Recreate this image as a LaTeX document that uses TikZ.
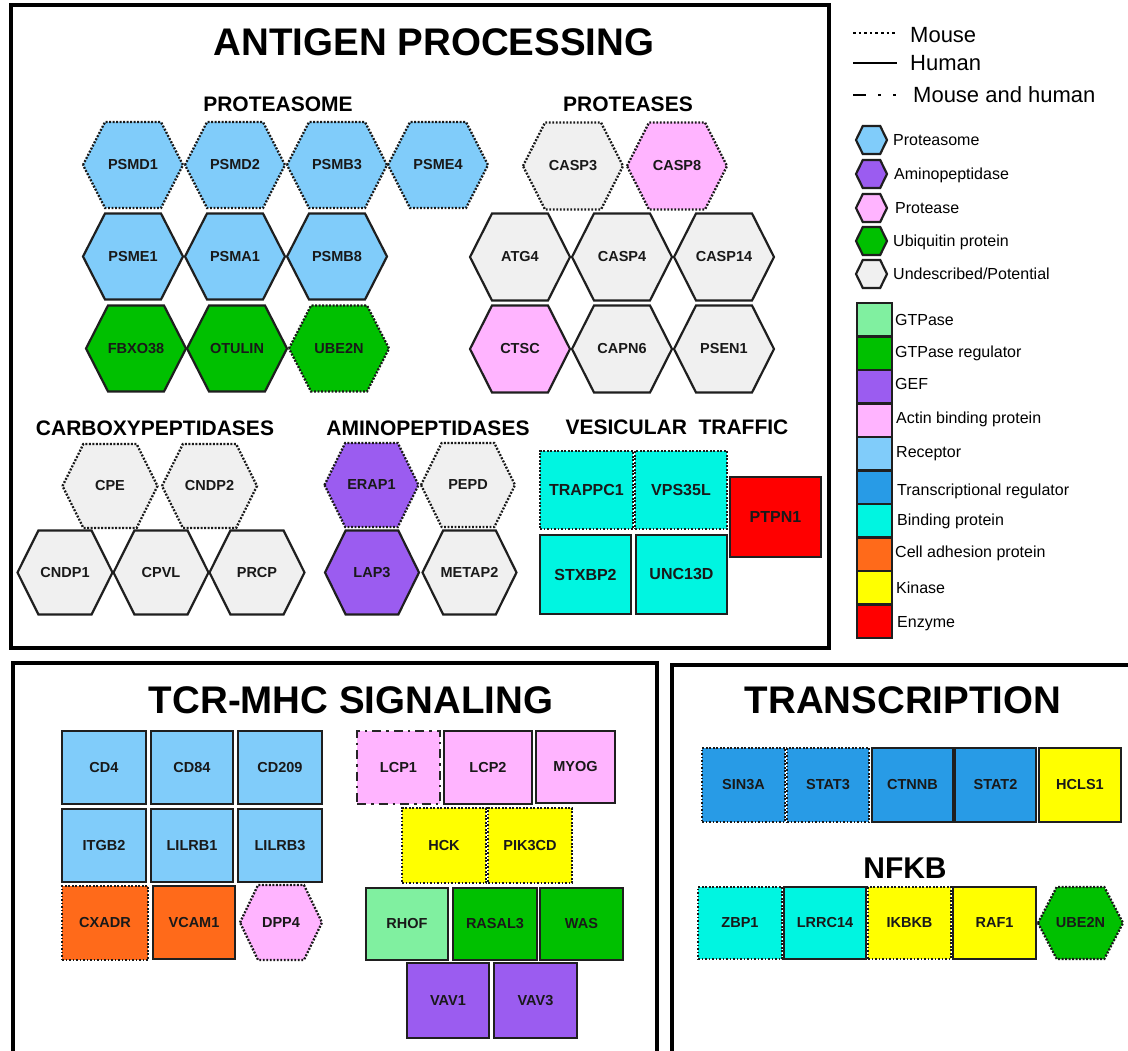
\documentclass[tikz,border=0pt]{standalone}
\usepackage{fontspec}
\setmainfont{Liberation Sans}
\definecolor{cprot}{RGB}{128,204,250}
\definecolor{cpurp}{RGB}{155,92,240}
\definecolor{cpink}{RGB}{255,180,255}
\definecolor{cgreen}{RGB}{0,192,0}
\definecolor{cgray}{RGB}{240,240,240}
\definecolor{cltgreen}{RGB}{128,240,160}
\definecolor{ctrans}{RGB}{40,155,230}
\definecolor{ccyan}{RGB}{0,245,225}
\definecolor{corange}{RGB}{255,106,26}
\definecolor{cyellow}{RGB}{255,255,0}
\definecolor{cred}{RGB}{255,0,0}
\tikzset{
 solidb/.style={draw=black!88, line width=2.2pt},
 dotb/.style={draw=black!90, line width=2.3pt, dash pattern=on 1.9pt off 1.6pt},
 dashdotb/.style={draw=black!85, line width=2.4pt, dash pattern=on 9pt off 5pt on 2.5pt off 5pt},
 lbl/.style={font=\fontsize{14.5}{16}\selectfont\bfseries, text=black!90, inner sep=0pt},
 sq/.style={lbl, rectangle},
 bigl/.style={font=\fontsize{16}{18}\selectfont\bfseries},
 frame/.style={line width=4pt, draw=black},
 ttl/.style={font=\fontsize{38.5}{40}\selectfont\bfseries, inner sep=0pt},
 sub/.style={font=\fontsize{21}{22}\selectfont\bfseries, inner sep=0pt},
 leg/.style={font=\fontsize{16}{18}\selectfont, anchor=base west, inner sep=0pt},
 legbig/.style={font=\fontsize{22}{24}\selectfont, anchor=base west, inner sep=0pt},
 legsq/.style={rectangle, solidb, minimum width=35pt, minimum height=33.5pt, inner sep=0pt},
}
% #1 name, #2 x, #3 y, #4 half width, #5 half height, #6 style, #7 label
\newcommand\hexa[7]{%
  \path[#6] (#2-#4,#3) -- (#2-0.56*#4,#3-#5) -- (#2+0.56*#4,#3-#5) -- (#2+#4,#3)
     -- (#2+0.56*#4,#3+#5) -- (#2-0.56*#4,#3+#5) -- cycle;
  \node[lbl] (#1) at (#2,#3) {#7};}
\begin{document}
\begin{tikzpicture}[x=1pt,y=-1pt]
\useasboundingbox (0,0) rectangle (1128,1051);
\clip (0,0) rectangle (1128,1051);
\fill[white] (0,0) rectangle (1128,1051);

% ---------- frames ----------
\draw[frame] (11,5) rectangle (829,648);
\draw[frame] (13,1070) -- (13,663) -- (657,663) -- (657,1070);
\draw[frame] (672,1070) -- (672,665) -- (1140,665);

% ---------- titles ----------
\node[ttl] (tap) at (434,42) {ANTIGEN PROCESSING};
\node[sub] (sprot) at (278,104) {PROTEASOME};
\node[sub] (sprots) at (628,104) {PROTEASES};
\node[sub] (scarb) at (155,428) {CARBOXYPEPTIDASES};
\node[sub] (samin) at (428,428) {AMINOPEPTIDASES};
\node[sub] (sves) at (677,427) {VESICULAR\ \ TRAFFIC};
\node[ttl] (ttcr) at (351,700) {TCR-MHC SIGNALING};
\node[ttl] (ttr) at (903,700) {TRANSCRIPTION};
\node[font=\fontsize{30}{32}\selectfont\bfseries, inner sep=0pt] (tnf) at (905,868) {NFKB};

% ---------- proteasome ----------
\hexa{psmd1}{133}{165}{50}{43}{fill=cprot,dotb}{PSMD1}
\hexa{psmd2}{235}{165}{50}{43}{fill=cprot,dotb}{PSMD2}
\hexa{psmb3}{337}{165}{50}{43}{fill=cprot,dotb}{PSMB3}
\hexa{psme4}{438}{165}{50}{43}{fill=cprot,dotb}{PSME4}
\hexa{psme1}{133}{256.5}{50}{43}{fill=cprot,solidb}{PSME1}
\hexa{psma1}{235}{256.5}{50}{43}{fill=cprot,solidb}{PSMA1}
\hexa{psmb8}{337}{256.5}{50}{43}{fill=cprot,solidb}{PSMB8}
\hexa{fbxo}{136}{348.5}{50}{43}{fill=cgreen,solidb}{FBXO38}
\hexa{otulin}{237}{348.5}{50}{43}{fill=cgreen,solidb}{OTULIN}
\hexa{ube2na}{339}{348.5}{50}{43}{fill=cgreen,dotb}{UBE2N}

% ---------- proteases ----------
\hexa{casp3}{573}{166}{50}{43.5}{fill=cgray,dotb}{CASP3}
\hexa{casp8}{677}{166}{50}{43.5}{fill=cpink,dotb}{CASP8}
\hexa{atg4}{520}{257}{50}{43.5}{fill=cgray,solidb}{ATG4}
\hexa{casp4}{622}{257}{50}{43.5}{fill=cgray,solidb}{CASP4}
\hexa{casp14}{724}{257}{50}{43.5}{fill=cgray,solidb}{CASP14}
\hexa{ctsc}{520}{349}{50}{43.5}{fill=cpink,solidb}{CTSC}
\hexa{capn6}{622}{349}{50}{43.5}{fill=cgray,solidb}{CAPN6}
\hexa{psen1}{724}{349}{50}{43.5}{fill=cgray,solidb}{PSEN1}

% ---------- carboxypeptidases ----------
\hexa{cpe}{110}{486}{47.5}{42}{fill=cgray,dotb}{CPE}
\hexa{cndp2}{209.5}{486}{47.5}{42}{fill=cgray,dotb}{CNDP2}
\hexa{cndp1}{65}{572.5}{47.5}{42}{fill=cgray,solidb}{CNDP1}
\hexa{cpvl}{161}{572.5}{47.5}{42}{fill=cgray,solidb}{CPVL}
\hexa{prcp}{257}{572.5}{47.5}{42}{fill=cgray,solidb}{PRCP}

% ---------- aminopeptidases ----------
\hexa{erap1}{371.5}{485}{47}{42}{fill=cpurp,dotb}{ERAP1}
\hexa{pepd}{468}{485}{47}{42}{fill=cgray,dotb}{PEPD}
\hexa{lap3}{372}{572.5}{47}{42}{fill=cpurp,solidb}{LAP3}
\hexa{metap2}{469.5}{572.5}{47}{42}{fill=cgray,solidb}{METAP2}

% ---------- vesicular traffic ----------
\node[sq,bigl,fill=ccyan,dotb,minimum width=93pt,minimum height=78pt] (trappc1) at (586.5,490) {TRAPPC1};
\node[sq,bigl,fill=ccyan,dotb,minimum width=92pt,minimum height=78pt] (vps35l) at (681,490) {VPS35L};
\node[sq,bigl,fill=ccyan,solidb,minimum width=91pt,minimum height=79pt] (stxbp2) at (585.5,574.5) {STXBP2};
\node[sq,bigl,fill=ccyan,solidb,minimum width=91pt,minimum height=79pt] (unc13d) at (681.5,574.5) {UNC13D};
\node[sq,bigl,fill=cred,solidb,minimum width=91pt,minimum height=80pt] (ptpn1) at (775.5,517) {PTPN1};

% ---------- TCR-MHC signaling ----------
\node[sq,fill=cprot,solidb,minimum width=84pt,minimum height=73pt] (cd4) at (104,767.5) {CD4};
\node[sq,fill=cprot,solidb,minimum width=82pt,minimum height=73pt] (cd84) at (192,767.5) {CD84};
\node[sq,fill=cprot,solidb,minimum width=84pt,minimum height=73pt] (cd209) at (280,767.5) {CD209};
\node[sq,fill=cprot,solidb,minimum width=84pt,minimum height=73pt] (itgb2) at (104,845.5) {ITGB2};
\node[sq,fill=cprot,solidb,minimum width=82pt,minimum height=73pt] (lilrb1) at (192,845.5) {LILRB1};
\node[sq,fill=cprot,solidb,minimum width=84pt,minimum height=73pt] (lilrb3) at (280,845.5) {LILRB3};
\node[sq,fill=corange,dotb,minimum width=86pt,minimum height=74pt] (cxadr) at (105,923) {CXADR};
\node[sq,fill=corange,solidb,minimum width=82pt,minimum height=73pt] (vcam1) at (194,922.5) {VCAM1};
\hexa{dpp4}{281}{922.5}{41}{37.5}{fill=cpink,dotb}{DPP4}

\node[sq,fill=cpink,dashdotb,minimum width=83pt,minimum height=73pt] (lcp1) at (398.5,767.5) {LCP1};
\node[sq,fill=cpink,solidb,minimum width=88pt,minimum height=73pt] (lcp2) at (488,767.5) {LCP2};
\node[sq,fill=cpink,solidb,minimum width=79pt,minimum height=72pt] (myog) at (575.5,767) {MYOG};
\node[sq,fill=cyellow,dotb,minimum width=84pt,minimum height=75pt] (hck) at (444,845.5) {HCK};
\node[sq,fill=cyellow,dotb,minimum width=84pt,minimum height=75pt] (pik3cd) at (530,845.5) {PIK3CD};
\node[sq,fill=cltgreen,solidb,minimum width=82pt,minimum height=72pt] (rhof) at (407,924) {RHOF};
\node[sq,fill=cgreen,solidb,minimum width=84pt,minimum height=72pt] (rasal3) at (495,924) {RASAL3};
\node[sq,fill=cgreen,solidb,minimum width=83pt,minimum height=72pt] (was) at (581.5,924) {WAS};
\node[sq,fill=cpurp,solidb,minimum width=82pt,minimum height=75pt] (vav1) at (448,1000.5) {VAV1};
\node[sq,fill=cpurp,solidb,minimum width=83pt,minimum height=75pt] (vav3) at (535.5,1000.5) {VAV3};

% ---------- transcription ----------
\node[sq,fill=ctrans,dotb,minimum width=83pt,minimum height=74pt] (sin3a) at (743.5,785) {SIN3A};
\node[sq,fill=ctrans,dotb,minimum width=82pt,minimum height=74pt] (stat3) at (828,785) {STAT3};
\node[sq,fill=ctrans,solidb,minimum width=81pt,minimum height=74pt] (ctnnb) at (912.5,785) {CTNNB};
\node[sq,fill=ctrans,solidb,minimum width=81pt,minimum height=74pt] (stat2) at (995.5,785) {STAT2};
\node[sq,fill=cyellow,solidb,minimum width=82pt,minimum height=74pt] (hcls1) at (1080,785) {HCLS1};
\node[sq,fill=ccyan,dotb,minimum width=84pt,minimum height=72pt] (zbp1) at (740,923) {ZBP1};
\node[sq,fill=ccyan,solidb,minimum width=82pt,minimum height=72pt] (lrrc14) at (825,923) {LRRC14};
\node[sq,fill=cyellow,dotb,minimum width=83pt,minimum height=72pt] (ikbkb) at (909.5,923) {IKBKB};
\node[sq,fill=cyellow,solidb,minimum width=83pt,minimum height=72pt] (raf1) at (994.5,923) {RAF1};
\hexa{ube2nb}{1080.5}{923}{42.5}{36}{fill=cgreen,dotb}{UBE2N}

% ---------- legend: line styles ----------
\coordinate (lm1) at (853,33); \coordinate (lm2) at (896,33);
\coordinate (lh1) at (853,63); \coordinate (lh2) at (897,63);
\coordinate (lb1) at (853,95); \coordinate (lb2) at (896,95);
\draw[line width=2.6pt, dash pattern=on 2.6pt off 3pt] (lm1) -- (lm2);
\draw[line width=2.6pt] (lh1) -- (lh2);
\draw[line width=2.8pt, dash pattern=on 13pt off 12pt on 3pt off 12pt on 3pt off 20pt] (lb1) -- (lb2);
\node[legbig] (lgm) at (910,43) {Mouse};
\node[legbig] (lgh) at (910,71) {Human};
\node[legbig] (lgb) at (913,103) {Mouse and human};

% ---------- legend: hexagons ----------
\hexa{lx1}{871.5}{140}{15.5}{14}{fill=cprot,solidb}{}
\hexa{lx2}{871.5}{174}{15.5}{14}{fill=cpurp,solidb}{}
\hexa{lx3}{871.5}{208}{15.5}{14}{fill=cpink,solidb}{}
\hexa{lx4}{871.5}{241}{15.5}{14}{fill=cgreen,solidb}{}
\hexa{lx5}{871.5}{274}{15.5}{14}{fill=cgray,solidb}{}
\node[leg] (lt1) at (893,145.8) {Proteasome};
\node[leg] (lt2) at (894,179.8) {Aminopeptidase};
\node[leg] (lt3) at (895,213.8) {Protease};
\node[leg] (lt4) at (893,246.8) {Ubiquitin protein};
\node[leg] (lt5) at (893,279.8) {Undescribed/Potential};

% ---------- legend: squares ----------
\node[legsq,fill=cltgreen] (ls1) at (874.5,319.75) {};
\node[legsq,fill=cgreen] (ls2) at (874.5,353.25) {};
\node[legsq,fill=cpurp] (ls3) at (874.5,386.75) {};
\node[legsq,fill=cpink] (ls4) at (874.5,420.25) {};
\node[legsq,fill=cprot] (ls5) at (874.5,453.75) {};
\node[legsq,fill=ctrans] (ls6) at (874.5,487.25) {};
\node[legsq,fill=ccyan] (ls7) at (874.5,520.75) {};
\node[legsq,fill=corange] (ls8) at (874.5,554.25) {};
\node[legsq,fill=cyellow] (ls9) at (874.5,587.75) {};
\node[legsq,fill=cred] (ls10) at (874.5,621.25) {};
\node[leg] (lq1) at (895,325.5) {GTPase};
\node[leg] (lq2) at (895,357.5) {GTPase regulator};
\node[leg] (lq3) at (895,389.5) {GEF};
\node[leg] (lq4) at (896,423.5) {Actin binding protein};
\node[leg] (lq5) at (896,457.5) {Receptor};
\node[leg] (lq6) at (897,495.5) {Transcriptional regulator};
\node[leg] (lq7) at (897,525.5) {Binding protein};
\node[leg] (lq8) at (895,557.5) {Cell adhesion protein};
\node[leg] (lq9) at (896,593.5) {Kinase};
\node[leg] (lq10) at (897,627.5) {Enzyme};
\end{tikzpicture}
\end{document}
